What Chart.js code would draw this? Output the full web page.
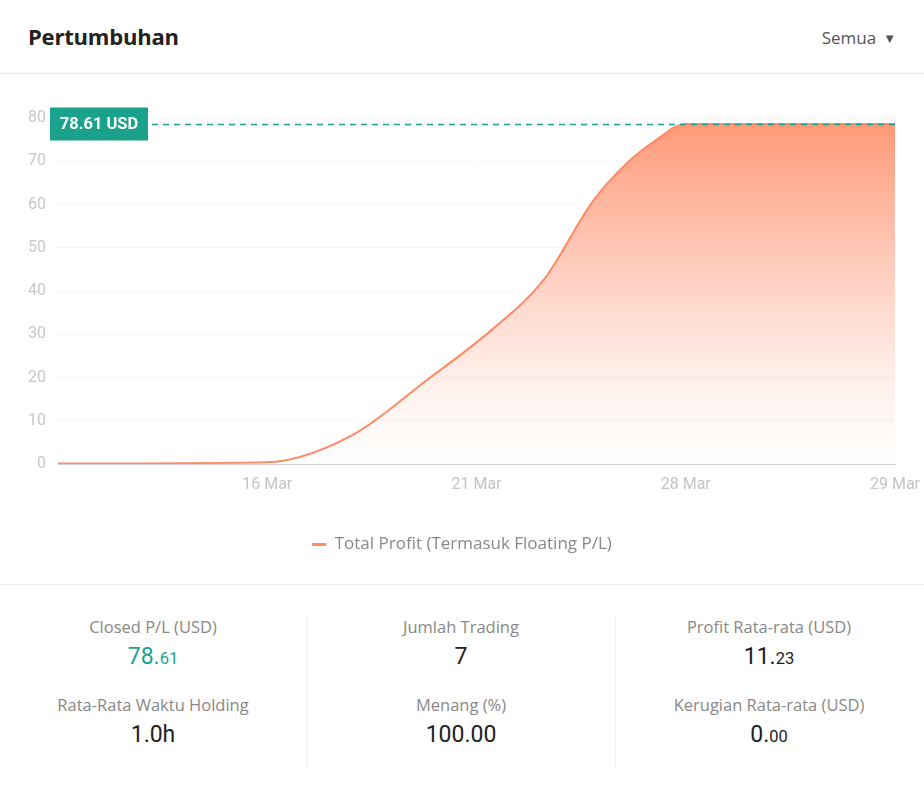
<!DOCTYPE html>
<html>
<head>
<meta charset="utf-8">
<script src="https://cdn.jsdelivr.net/npm/chart.js@4/dist/chart.umd.min.js"></script>
<style>
  html,body{margin:0;padding:0;background:#fff;}
  body{width:924px;height:787px;position:relative;overflow:hidden;font-family:"Open Sans","Noto Sans",sans-serif;}
  .hdr{position:absolute;left:0;top:0;width:924px;height:73px;border-bottom:1px solid #e8e8e8;}
  .title{position:absolute;left:28px;top:21px;font-size:22px;font-weight:700;color:#222;font-family:"Open Sans",sans-serif;letter-spacing:-0.2px;}
  .sel{position:absolute;right:28px;top:26px;font-size:17px;color:#555;}
  .sel span{font-size:13px;margin-left:7px;vertical-align:1px;}
  #wrap{position:absolute;left:0;top:74px;width:924px;height:510px;}
  .sep{position:absolute;left:0;top:584px;width:924px;height:1px;background:#eeeeee;}
  .col{position:absolute;width:306px;text-align:center;}
  .vline{position:absolute;top:615px;width:1px;height:155px;background:#f0f0f0;}
  .lab{font-size:16.5px;color:#888;height:24px;line-height:24px;}
  .val{font-size:23px;color:#222;font-family:Roboto,sans-serif;font-weight:400;height:30px;line-height:30px;margin-top:3px;}
  .val small{font-size:16.5px;}
  .val.g{color:#1aa38a;}
  .row2{margin-top:21px;}
</style>
</head>
<body>
<div class="hdr"><div class="title">Pertumbuhan</div><div class="sel">Semua<span>&#9660;</span></div></div>
<div id="wrap"><canvas id="c"></canvas></div>
<div class="sep"></div>
<div class="vline" style="left:306px"></div>
<div class="vline" style="left:615px"></div>
<div class="col" style="left:0;top:615px">
  <div class="lab">Closed P/L (USD)</div><div class="val g">78.<small>61</small></div>
  <div class="lab row2">Rata-Rata Waktu Holding</div><div class="val">1.0h</div>
</div>
<div class="col" style="left:308px;top:615px">
  <div class="lab">Jumlah Trading</div><div class="val">7</div>
  <div class="lab row2">Menang (%)</div><div class="val">100.00</div>
</div>
<div class="col" style="left:616px;top:615px">
  <div class="lab">Profit Rata-rata (USD)</div><div class="val">11.<small>23</small></div>
  <div class="lab row2">Kerugian Rata-rata (USD)</div><div class="val">0.<small>00</small></div>
</div>
<script>
const tickLabels = ['', '16 Mar', '21 Mar', '28 Mar', '29 Mar'];
const xPositions = [0, 1, 1.4, 1.76, 2.08, 2.32, 2.56, 2.72, 2.85, 3, 4];
const profitValues = [0.1, 0.4, 6.5, 19.3, 31.3, 42.5, 61.0, 69.6, 74.6, 78.61, 78.61];
const seriesName = 'Total Profit (Termasuk Floating P/L)';
const finalLabel = '78.61 USD';

const points = xPositions.map((x, i) => ({x: x, y: profitValues[i]}));

const lastValuePlugin = {
  id: 'lastValue',
  afterDatasetsDraw(chart) {
    const ctx = chart.ctx, ys = chart.scales.y, area = chart.chartArea;
    const v = profitValues[profitValues.length - 1];
    const y = Math.round(ys.getPixelForValue(v)) + 0.5;
    ctx.save();
    ctx.strokeStyle = '#1aa38a';
    ctx.lineWidth = 1.5;
    ctx.setLineDash([6, 5]);
    ctx.beginPath();
    ctx.moveTo(152, y);
    ctx.lineTo(area.right, y);
    ctx.stroke();
    ctx.setLineDash([]);
    ctx.fillStyle = '#1aa38a';
    ctx.fillRect(50, y - 17, 98, 33);
    ctx.fillStyle = '#fff';
    ctx.font = 'bold 16.5px Roboto, sans-serif';
    ctx.textAlign = 'center';
    ctx.textBaseline = 'middle';
    ctx.fillText(finalLabel, 99, y);
    ctx.restore();
  }
};

const ctx = document.getElementById('c').getContext('2d');
new Chart(ctx, {
  type: 'line',
  data: {
    datasets: [{
      label: seriesName,
      data: points,
      borderColor: '#ff8a65',
      borderWidth: 2,
      pointRadius: 0,
      cubicInterpolationMode: 'monotone',
      fill: 'origin',
      backgroundColor: (c) => {
        const a = c.chart.chartArea;
        if (!a) return 'rgba(255,140,100,0.5)';
        const g = c.chart.ctx.createLinearGradient(0, a.top, 0, a.bottom);
        g.addColorStop(0, 'rgba(255,145,110,0.95)');
        g.addColorStop(0.5, 'rgba(255,160,130,0.45)');
        g.addColorStop(1, 'rgba(255,200,180,0.0)');
        return g;
      }
    }]
  },
  options: {
    responsive: true,
    maintainAspectRatio: false,
    animation: false,
    layout: {padding: {top: 44, right: 0, left: 0, bottom: 21}},
    plugins: {
      tooltip: {enabled: false},
      legend: {
        position: 'bottom',
        labels: {
          usePointStyle: true,
          pointStyle: 'line',
          pointStyleWidth: 14,
          color: '#888',
          font: {size: 17, family: '"Open Sans", sans-serif'},
          padding: 12,
          generateLabels: (chart) => Chart.defaults.plugins.legend.labels.generateLabels(chart).map(l => Object.assign(l, {lineWidth: 3}))
        }
      }
    },
    scales: {
      x: {
        type: 'linear',
        min: 0, max: 4,
        ticks: {
          stepSize: 1,
          color: '#c4c4c4',
          font: {size: 16, family: 'Roboto, sans-serif'},
          padding: 11,
          maxRotation: 0,
          callback: (v) => tickLabels[v] !== undefined ? tickLabels[v] : ''
        },
        grid: {display: false, drawTicks: false},
        border: {display: true, color: '#cfcfcf', width: 1},
        afterFit: (s) => { s.height = 60; s.paddingRight = 29; s.paddingLeft = 0; }
      },
      y: {
        min: 0, max: 80,
        ticks: {
          stepSize: 10,
          color: '#c8c8c8',
          font: {size: 16, family: 'Roboto, sans-serif'},
          padding: 12
        },
        grid: {color: '#f4f4f4', drawTicks: false},
        border: {display: false},
        afterFit: (s) => { s.width = 58; }
      }
    }
  },
  plugins: [lastValuePlugin]
});
</script>
</body>
</html>
